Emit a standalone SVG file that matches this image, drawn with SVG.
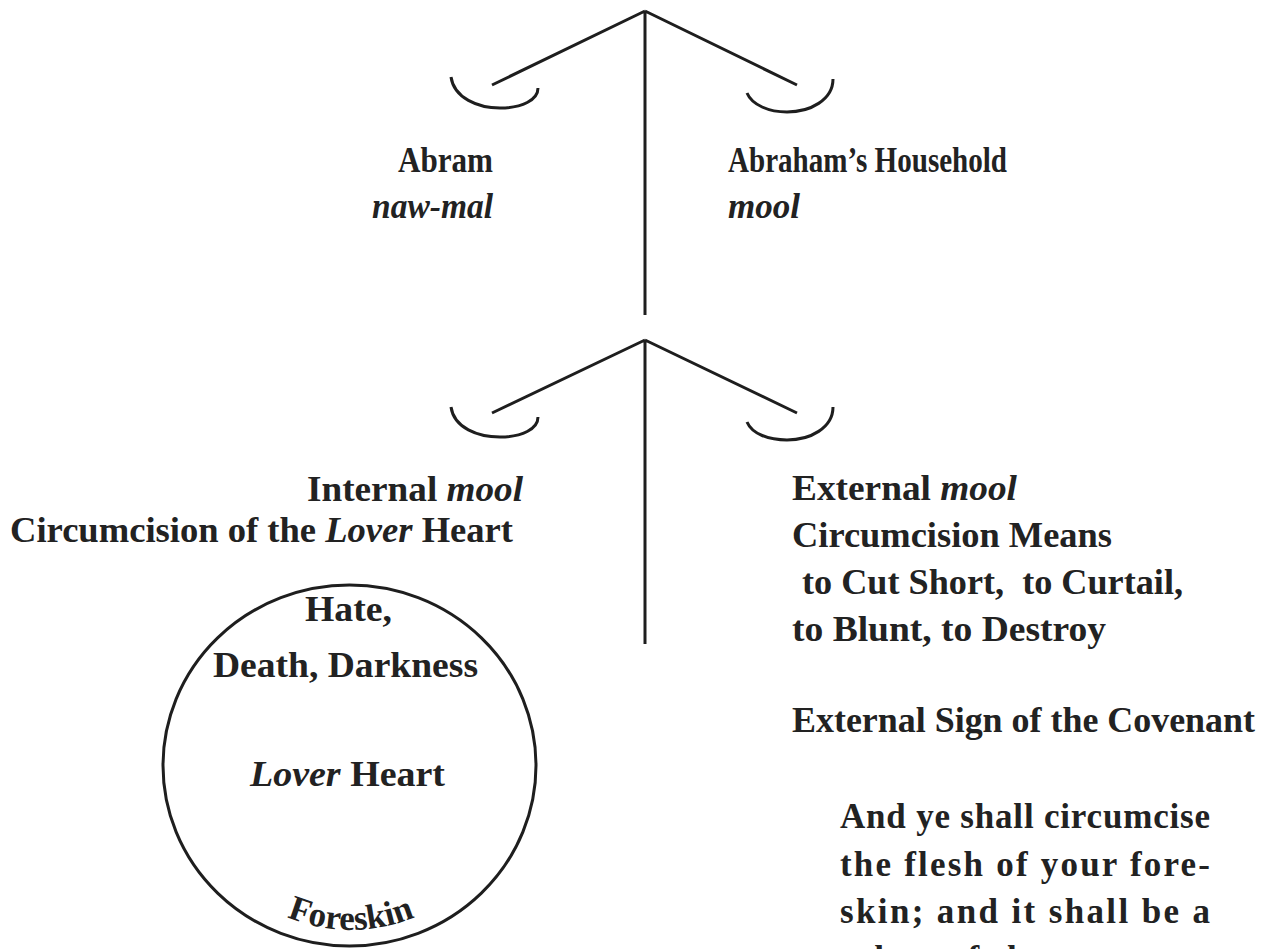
<svg xmlns="http://www.w3.org/2000/svg" width="1271" height="949" viewBox="0 0 1271 949">
<style>
.ln{fill:none;stroke:#1e1e1e;stroke-width:3;stroke-linecap:butt}
.t{font-family:"Liberation Serif","Times New Roman",serif;font-weight:bold;font-size:35px;fill:#222}
.i{font-style:italic}
.pre{white-space:pre}
</style>
<defs>
<path id="foreArc" d="M185,764 A166,166 0 0 0 517,764"/>
</defs>
<rect width="1271" height="949" fill="#ffffff"/>
<g id="connectors">
<path class="ln" d="M645,11 L645,315 M645,11 L492,85 M645,11 L797,85"/>
<path class="ln" d="M451,77 C454,98 478,108 500,108 C522,108 538,100 538,88"/>
<path class="ln" d="M747,93 C752,105 769,112 787,112 C810,112 833,100 833,79"/>
<path class="ln" d="M645,340 L645,644 M645,340 L492,413 M645,340 L797,413"/>
<path class="ln" d="M451,407 C454,428 478,437 500,437 C522,437 538,429 538,417"/>
<path class="ln" d="M747,422 C752,434 769,440 787,440 C810,440 833,428 833,407"/>
</g>
<g id="abram">
<text class="t" x="398" y="172" textLength="95" lengthAdjust="spacingAndGlyphs">Abram</text>
<text class="t i" x="372" y="218" textLength="121" lengthAdjust="spacingAndGlyphs">naw-mal</text>
</g>
<g id="household">
<text class="t" x="728" y="172" textLength="279" lengthAdjust="spacingAndGlyphs">Abraham’s Household</text>
<text class="t i" x="728" y="218" textLength="72" lengthAdjust="spacingAndGlyphs">mool</text>
</g>
<g id="internal">
<text class="t" x="307" y="501" textLength="216" lengthAdjust="spacingAndGlyphs">Internal <tspan class="i">mool</tspan></text>
<text class="t" x="10" y="542" textLength="503" lengthAdjust="spacingAndGlyphs">Circumcision of the <tspan class="i">Lover</tspan> Heart</text>
</g>
<g id="heart">
<ellipse class="ln" cx="349.5" cy="765.5" rx="186.5" ry="180.5"/>
<text class="t" x="305" y="621" textLength="87" lengthAdjust="spacingAndGlyphs">Hate,</text>
<text class="t" x="213" y="677" textLength="265" lengthAdjust="spacingAndGlyphs">Death, Darkness</text>
<text class="t" x="250" y="786" textLength="195" lengthAdjust="spacingAndGlyphs"><tspan class="i">Lover</tspan> Heart</text>
<text class="t"><textPath href="#foreArc" startOffset="50%" text-anchor="middle">Foreskin</textPath></text>
</g>
<g id="external">
<text class="t" x="792" y="500" textLength="225" lengthAdjust="spacingAndGlyphs">External <tspan class="i">mool</tspan></text>
<text class="t" x="792" y="547" textLength="320" lengthAdjust="spacingAndGlyphs">Circumcision Means</text>
<text class="t pre" x="802" y="594" textLength="381" lengthAdjust="spacingAndGlyphs">to Cut Short,  to Curtail,</text>
<text class="t" x="792" y="641" textLength="314" lengthAdjust="spacingAndGlyphs">to Blunt, to Destroy</text>
</g>
<g id="sign">
<text class="t" x="792" y="732" textLength="463" lengthAdjust="spacingAndGlyphs">External Sign of the Covenant</text>
</g>
<g id="verse">
<text class="t" x="840" y="828" textLength="370" lengthAdjust="spacing">And ye shall circumcise</text>
<text class="t" x="840" y="876" textLength="370" lengthAdjust="spacing">the flesh of your fore-</text>
<text class="t" x="840" y="923" textLength="370" lengthAdjust="spacing">skin; and it shall be a</text>
<text class="t" x="840" y="970" textLength="370" lengthAdjust="spacing">token of the covenant</text>
</g>
</svg>
